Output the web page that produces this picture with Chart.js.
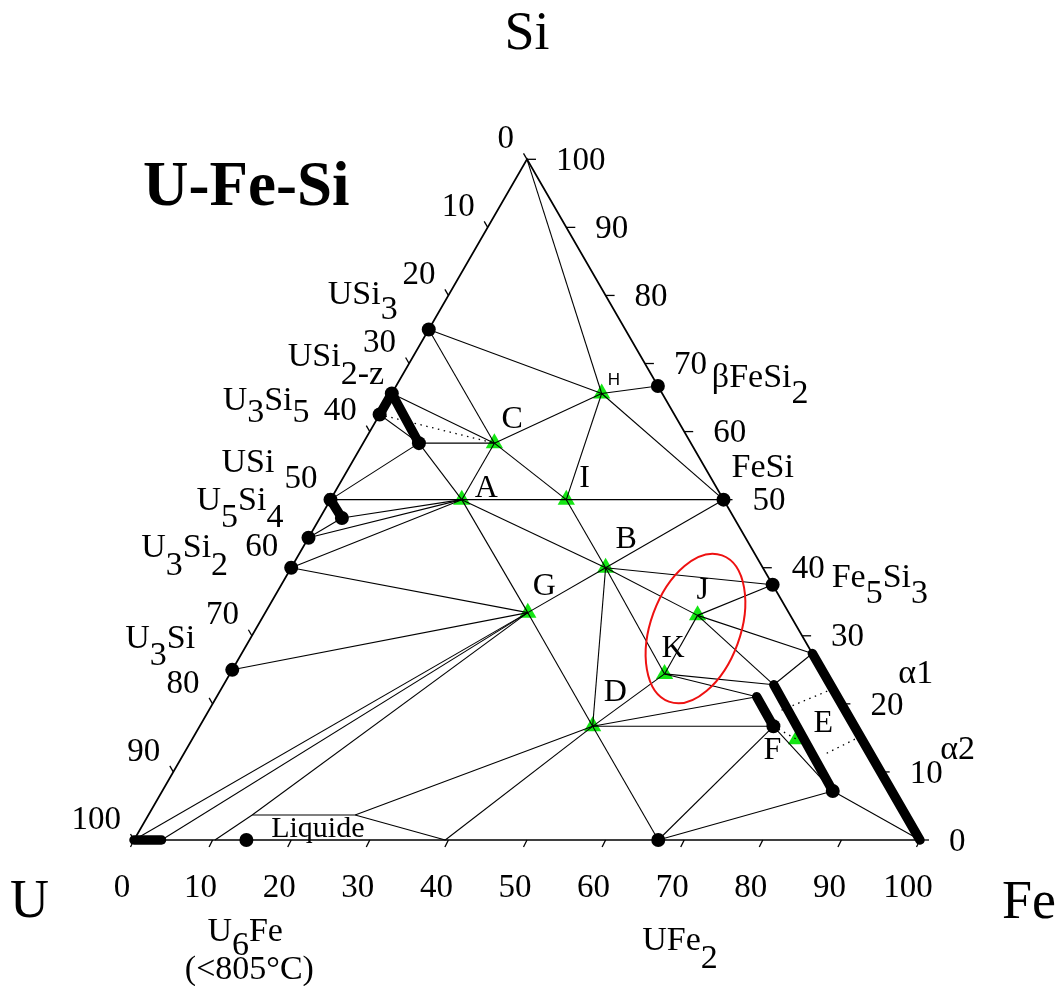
<!DOCTYPE html>
<html>
<head>
<meta charset="utf-8">
<title>U-Fe-Si</title>
<script src="https://cdn.jsdelivr.net/npm/chart.js@4/dist/chart.umd.min.js"></script>
<style>
  html, body { margin: 0; padding: 0; background: #fff; }
  canvas { display: block; }
</style>
</head>
<body>
<canvas id="ternary" width="1058" height="986"></canvas>
<script>
// ---- Compositions, at.% Fe and at.% Si (U is the balance) ----
const vertexNames = ['U', 'Fe', 'Si'];
const vertexFe = [0, 100, 0];
const vertexSi = [0, 0, 100];

// Binary compounds (black dots)
const binaryNames = ['USi3', 'USi2-z', 'U3Si5', 'USi', 'USi(Fe)', 'U5Si4', 'U3Si2', 'U3Si', 'U6Fe', 'UFe2', 'Fe5Si3', 'FeSi', 'βFeSi2'];
const binaryFe = [0, 0, 0, 0, 2.8, 0, 0, 0, 14.3, 66.7, 62.5, 50, 33.3];
const binarySi = [75, 65.6, 62.5, 50, 47.3, 44.4, 40, 25, 0, 0, 37.5, 50, 66.7];

// Ternary compounds (green triangles)
const ternaryNames = ['A', 'B', 'C', 'D', 'E', 'G', 'H', 'I', 'J', 'K'];
const ternaryFe = [16.7, 40, 16.7, 50, 76.9, 33.4, 26.7, 30, 55.2, 55.3];
const ternarySi = [50, 40, 58.3, 16.7, 14.8, 33.4, 65.6, 50, 33, 24.4];

// Limits of solid solutions, liquid pocket and other junctions
const junctionNames = ['USi2-z(Fe)', 'α1', 'τ1', 'τ2', 'F1', 'F', 'U(Fe)', 'L0', 'L1', 'L2', 'L3', 'e1', 'e2', 'e3', 'e4'];
const junctionFe = [7.1, 72.6, 70, 85.3, 68.7, 73, 3.5, 10.3, 13.2, 26.3, 39.6, 77.8, 72.5, 84.8, 81.45];
const junctionSi = [58.3, 27.4, 22.8, 7.2, 21.05, 16.7, 0, 0, 3.67, 3.67, 0, 22.2, 18.85, 15.2, 12.5];

// Tie lines (solid), tie lines (dotted), homogeneity ranges (thick)
const tieLines = [
  ['Si', 'H'], ['H', 'βFeSi2'], ['H', 'USi3'], ['H', 'C'], ['H', 'I'], ['H', 'FeSi'],
  ['USi3', 'C'], ['USi2-z', 'C'], ['USi2-z(Fe)', 'C'], ['U3Si5', 'USi2-z(Fe)'], ['USi', 'USi2-z(Fe)'], ['USi2-z(Fe)', 'A'],
  ['C', 'A'], ['C', 'I'],
  ['USi', 'A'], ['A', 'I'], ['I', 'FeSi'],
  ['USi(Fe)', 'A'], ['U5Si4', 'A'], ['U3Si2', 'A'], ['U5Si4', 'USi(Fe)'],
  ['U3Si2', 'G'], ['U3Si', 'G'],
  ['A', 'G'], ['G', 'D'], ['D', 'UFe2'],
  ['A', 'B'], ['I', 'B'], ['G', 'B'], ['B', 'FeSi'], ['B', 'Fe5Si3'], ['B', 'J'], ['B', 'K'], ['B', 'D'],
  ['J', 'Fe5Si3'], ['J', 'K'], ['J', 'α1'], ['J', 'τ1'],
  ['K', 'τ1'], ['K', 'F1'], ['D', 'K'], ['D', 'F1'], ['D', 'F'],
  ['τ1', 'α1'],
  ['UFe2', 'F'], ['UFe2', 'τ2'], ['F', 'τ2'], ['τ2', 'Fe'],
  ['D', 'L2'], ['D', 'L3'], ['L1', 'L2'], ['L2', 'L3'], ['L0', 'L1'], ['L1', 'G'],
  ['U', 'G'], ['U(Fe)', 'G']
];
const dottedLines = [['U3Si5', 'C'], ['e1', 'e2'], ['e3', 'e4'], ['F', 'E']];
const homogeneityRanges = [['U3Si5', 'USi2-z'], ['USi2-z', 'USi2-z(Fe)'], ['USi', 'USi(Fe)'], ['U', 'U(Fe)'], ['α1', 'Fe'], ['τ1', 'τ2'], ['F1', 'F']];
const dotNodes = ['USi3', 'USi2-z', 'U3Si5', 'USi', 'USi(Fe)', 'U5Si4', 'U3Si2', 'U3Si', 'U6Fe', 'UFe2', 'Fe5Si3', 'FeSi', 'βFeSi2', 'USi2-z(Fe)', 'τ2', 'F'];

const tickValues = [0, 10, 20, 30, 40, 50, 60, 70, 80, 90, 100];

// ---- Geometry: composition -> cartesian (equilateral triangle of side 100) ----
const H3 = Math.sqrt(3) / 2;
function toXY(fe, si) { return { x: fe + si / 2, y: si * H3 }; }

const nodes = {};
function addNodes(names, fe, si) { names.forEach((n, i) => { nodes[n] = { fe: fe[i], si: si[i] }; }); }
addNodes(vertexNames, vertexFe, vertexSi);
addNodes(binaryNames, binaryFe, binarySi);
addNodes(ternaryNames, ternaryFe, ternarySi);
addNodes(junctionNames, junctionFe, junctionSi);
const xy = n => toXY(nodes[n].fe, nodes[n].si);

const lineBase = { showLine: true, pointRadius: 0, pointHoverRadius: 0, borderColor: '#000', fill: false, clip: false };
const datasets = [];

// triangle frame
datasets.push(Object.assign({}, lineBase, {
  data: ['U', 'Fe', 'Si', 'U'].map(xy), borderWidth: 1.7, borderJoinStyle: 'miter', order: 3
}));
tieLines.forEach(([a, b]) => datasets.push(Object.assign({}, lineBase, {
  data: [xy(a), xy(b)], borderWidth: 1.1, order: 3
})));
dottedLines.forEach(([a, b]) => datasets.push(Object.assign({}, lineBase, {
  data: [xy(a), xy(b)], borderWidth: 1.3, borderDash: [1.5, 4.5], order: 3
})));
homogeneityRanges.forEach(([a, b]) => datasets.push(Object.assign({}, lineBase, {
  data: [xy(a), xy(b)], borderWidth: 9.5, borderCapStyle: 'round', order: 2
})));
datasets.push({
  data: dotNodes.map(xy), showLine: false, pointRadius: 7, pointHoverRadius: 7,
  backgroundColor: '#000', pointBorderWidth: 0, clip: false, order: 1
});
datasets.push({
  data: ternaryNames.map(xy), showLine: false, pointStyle: 'triangle', pointRadius: 10, pointHoverRadius: 10,
  backgroundColor: '#14e614', pointBorderWidth: 0, clip: false, order: 5
});

// ---- Text layout (pixel offsets from the node each label names) ----
const SERIF = '"Liberation Serif", "Times New Roman", serif';
const compoundLabels = [
  { node: 'USi3', dx: -101, dy: -25, parts: [['USi', 0], ['3', 1]], sub: 15 },
  { node: 'USi2-z', dx: -104, dy: -27, parts: [['USi', 0], ['2-z', 1]], sub: 18 },
  { node: 'U3Si5', dx: -157, dy: -5, parts: [['U', 0], ['3', 1], ['Si', 0], ['5', 1]], sub: 12 },
  { node: 'USi', dx: -109, dy: -28, parts: [['USi', 0]], sub: 0 },
  { node: 'U5Si4', dx: -112, dy: -28, parts: [['U', 0], ['5', 1], ['Si', 0], ['4', 1]], sub: 17 },
  { node: 'U3Si2', dx: -150, dy: -11, parts: [['U', 0], ['3', 1], ['Si', 0], ['2', 1]], sub: 18 },
  { node: 'U3Si', dx: -107, dy: -22, parts: [['U', 0], ['3', 1], ['Si', 0]], sub: 17 },
  { node: 'U6Fe', dx: -39, dy: 101, parts: [['U', 0], ['6', 1], ['Fe', 0]], sub: 14 },
  { node: 'UFe2', dx: -16, dy: 110, parts: [['UFe', 0], ['2', 1]], sub: 18 },
  { node: 'Fe5Si3', dx: 59, dy: 2, parts: [['Fe', 0], ['5', 1], ['Si', 0], ['3', 1]], sub: 16 },
  { node: 'FeSi', dx: 8, dy: -23, parts: [['FeSi', 0]], sub: 0 },
  { node: 'βFeSi2', dx: 54, dy: 1, parts: [['βFeSi', 0], ['2', 1]], sub: 16 },
  { node: 'α1', dx: 86, dy: 30, parts: [['α1', 0]], sub: 0 },
  { node: 'e3', dx: 80, dy: 22, parts: [['α2', 0]], sub: 0 }
];
const letterLabels = [
  { node: 'A', dx: 13, dy: -3 }, { node: 'B', dx: 10, dy: -20 }, { node: 'C', dx: 7, dy: -15 },
  { node: 'D', dx: 11, dy: -25 }, { node: 'E', dx: 17, dy: -7 }, { node: 'F', dx: -10, dy: 33, text: 'F' },
  { node: 'G', dx: 5, dy: -18 }, { node: 'I', dx: 13, dy: -13 },
  { node: 'J', dx: -1, dy: -16 }, { node: 'K', dx: -3, dy: -17 }
];

const ternaryDecor = {
  id: 'ternaryDecor',
  afterDatasetsDraw(chart) {
    const ctx = chart.ctx, sx = chart.scales.x, sy = chart.scales.y;
    const P = (fe, si) => { const c = toXY(fe, si); return [sx.getPixelForValue(c.x), sy.getPixelForValue(c.y)]; };
    const PN = n => P(nodes[n].fe, nodes[n].si);
    ctx.save();
    ctx.fillStyle = '#000';
    ctx.strokeStyle = '#000';

    // axis ticks
    ctx.lineWidth = 1.3;
    tickValues.forEach(v => {
      let p = P(v, 0);                     // Fe axis (bottom)
      ctx.beginPath(); ctx.moveTo(p[0], p[1]); ctx.lineTo(p[0] - 3.5, p[1] + 7); ctx.stroke();
      p = P(0, 100 - v);                   // U axis (left)
      ctx.beginPath(); ctx.moveTo(p[0], p[1]); ctx.lineTo(p[0] - 3.5, p[1] - 6); ctx.stroke();
      p = P(100 - v, v);                   // Si axis (right)
      ctx.beginPath(); ctx.moveTo(p[0], p[1]); ctx.lineTo(p[0] + 9, p[1]); ctx.stroke();
    });

    // tick labels
    ctx.font = '33px ' + SERIF;
    ctx.textBaseline = 'middle';
    tickValues.forEach(v => {
      let p = P(v, 0);
      ctx.textAlign = 'center'; ctx.fillText(String(v), p[0] - 12, p[1] + 48);
      p = P(0, 100 - v);
      ctx.textAlign = 'right'; ctx.fillText(String(v), p[0] - 13, p[1] - 20);
      p = P(100 - v, v);
      ctx.textAlign = 'left'; ctx.fillText(String(v), p[0] + 29, p[1] + 2);
    });

    // compound labels with subscripts
    ctx.textAlign = 'left';
    ctx.textBaseline = 'alphabetic';
    ctx.font = '34px ' + SERIF;
    compoundLabels.forEach(l => {
      const p = PN(l.node);
      let x = p[0] + l.dx;
      const y = p[1] + l.dy;
      l.parts.forEach(([t, s]) => { ctx.fillText(t, x, y + (s ? l.sub : 0)); x += ctx.measureText(t).width; });
    });
    const pu6 = PN('U6Fe');
    ctx.textAlign = 'center';
    ctx.fillText('(<805°C)', pu6[0] + 3, pu6[1] + 139);

    // ternary compound letters
    ctx.textAlign = 'left';
    ctx.font = '32px ' + SERIF;
    letterLabels.forEach(l => { const p = PN(l.node); ctx.fillText(l.text || l.node, p[0] + l.dx, p[1] + l.dy); });
    ctx.font = '17px "Liberation Sans", Arial, sans-serif';
    const ph = PN('H');
    ctx.fillText('H', ph[0] + 6, ph[1] - 8);

    // liquid pocket
    ctx.font = '30px ' + SERIF;
    const pl = PN('L1');
    ctx.fillText('Liquide', pl[0] + 19, pl[1] + 22);

    // element names and title
    ctx.font = '54px ' + SERIF;
    const pSi = PN('Si'), pU = PN('U'), pFe = PN('Fe');
    ctx.textAlign = 'center'; ctx.textBaseline = 'middle';
    ctx.fillText('Si', pSi[0], pSi[1] - 124);
    ctx.textAlign = 'left'; ctx.textBaseline = 'alphabetic';
    ctx.fillText('U', pU[0] - 124, pU[1] + 77);
    ctx.fillText('Fe', pFe[0] + 82, pFe[1] + 78);
    ctx.font = 'bold 63px ' + SERIF;
    ctx.fillText('U-Fe-Si', pU[0] + 9, pSi[1] + 46);

    // region of interest around J and K
    const c = toXY(55.9, 31.07);
    const cx = sx.getPixelForValue(c.x), cy = sy.getPixelForValue(c.y);
    const unit = Math.abs(sx.getPixelForValue(1) - sx.getPixelForValue(0));
    ctx.strokeStyle = '#ee1111';
    ctx.lineWidth = 2;
    ctx.beginPath();
    ctx.ellipse(cx, cy, 5.7 * unit, 9.9 * unit, 20 * Math.PI / 180, 0, 2 * Math.PI);
    ctx.stroke();
    ctx.restore();
  }
};

// scale limits chosen so that one composition unit has the same pixel size on both axes
const PX = 7.86;
const originPx = { x: 134, y: 840 };
const W = 1058, Hh = 986;

new Chart(document.getElementById('ternary'), {
  type: 'scatter',
  data: { datasets },
  options: {
    responsive: false,
    maintainAspectRatio: false,
    devicePixelRatio: 1,
    animation: false,
    events: [],
    layout: { padding: 0, autoPadding: false },
    scales: {
      x: { type: 'linear', display: false, min: -originPx.x / PX, max: (W - originPx.x) / PX },
      y: { type: 'linear', display: false, min: -(Hh - originPx.y) / PX, max: originPx.y / PX }
    },
    plugins: { legend: { display: false }, tooltip: { enabled: false }, title: { display: false } }
  },
  plugins: [ternaryDecor]
});
</script>
</body>
</html>
